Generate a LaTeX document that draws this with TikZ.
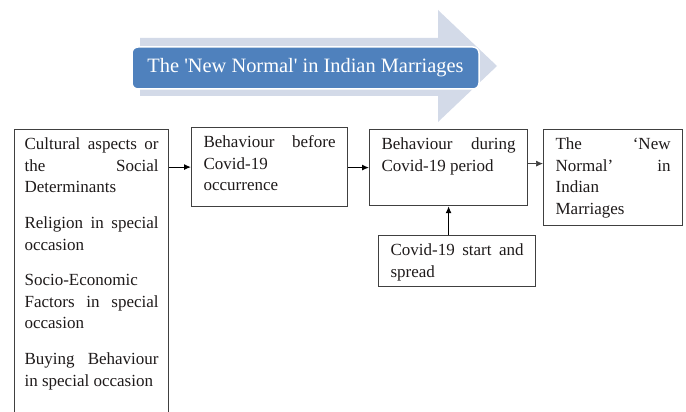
\documentclass[tikz,border=0pt]{standalone}
\usepackage{fontspec}
\setmainfont{Liberation Serif}
\newfontfamily\titlefont{Liberation Serif}[Ligatures=TeXOff]
\usepackage{tikz}
\usetikzlibrary{arrows.meta}

\definecolor{bannerfill}{HTML}{D3DAE8}
\definecolor{titleblue}{HTML}{4F81BD}
\definecolor{framegray}{HTML}{404040}
\definecolor{textdark}{HTML}{1E1A1A}

% justified text block of fixed width and height, text at the top
\newcommand{\boxtext}[3]{\parbox[t][#2][t]{#1}{\fontsize{17}{21.8}\selectfont
  \tolerance=10000 \hbadness=10000 \hyphenpenalty=10000 \exhyphenpenalty=10000
  \strut #3}}

\tikzset{
  stage/.style={draw=framegray, line width=1.2pt, anchor=north west, text=textdark,
    inner xsep=12pt, inner ysep=4.5pt},
  flow/.style={-{Latex[length=7pt,width=6pt]}, line width=1.1pt},
}

\begin{document}
\begin{tikzpicture}[x=1pt, y=-1pt]
			\useasboundingbox (0,0) rectangle (686,412);
			\clip (0,0) rectangle (686,412);

			% banner arrow and title
			\fill[bannerfill] (140,38) -- (438,38) -- (438,10) -- (497,66)
				-- (438,122) -- (438,96) -- (140,96) -- cycle;
			\node[fill=titleblue, draw=white, line width=1.5pt, rounded corners=6pt,
				minimum width=347pt, minimum height=42pt, text=white,
				font=\titlefont\fontsize{20.4}{24}\selectfont] (title) at (305.5,68)
				{The 'New Normal' in Indian Marriages};

			% stages
			\node[stage, inner xsep=10pt] (culture) at (14,129) {\boxtext{134pt}{300pt}{%
				Cultural aspects or the Social Determinants\par
				\setlength{\parskip}{13.5pt}%
				Religion in special occasion\par
				Socio-Economic Factors in special occasion\par
				Buying Behaviour in special occasion}};
			\node[stage] (before) at (191,127) {\boxtext{132pt}{70pt}{Behaviour before Covid-19 occurrence}};
			\node[stage] (during) at (369,129) {\boxtext{134pt}{67pt}{Behaviour during Covid-19 period}};
			\node[stage] (normal) at (543,129) {\boxtext{115pt}{87pt}{The `New\linebreak Normal' in\linebreak Indian\linebreak Marriages}};
			\node[stage] (spread) at (378,235) {\boxtext{133pt}{42pt}{Covid-19 start and spread}};

			\draw[flow] (culture.east |- before.west) -- (before.west);
			\draw[flow] (before.east |- during.west) -- (during.west);
			\draw[flow, line width=0.7pt, draw=framegray] ([yshift=4pt]during.east) -- ([yshift=4pt]during.east -| normal.west);
			\draw[flow] (spread.north -| during.south) -- (during.south);
        \end{tikzpicture}
\end{document}
